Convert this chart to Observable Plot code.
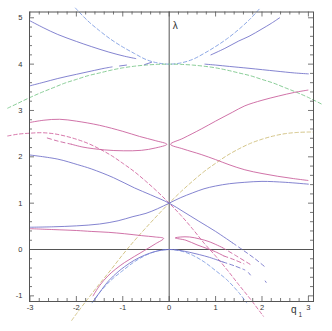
<!DOCTYPE html>
<html><head><meta charset="utf-8">
<script src="https://cdn.jsdelivr.net/npm/d3@7"></script>
<script src="https://cdn.jsdelivr.net/npm/@observablehq/plot@0.6"></script>
<style>body{margin:0;background:#fff}svg{display:block}</style>
</head><body><div id="chart"></div>
<script>
// ---- tick values ----
const xMajor = [-3, -2, -1, 0, 1, 2, 3];
const yMajor = [-1, 0, 1, 2, 3, 4, 5];
const xMinor = [-2.8,-2.6,-2.4,-2.2,-1.8,-1.6,-1.4,-1.2,-0.8,-0.6,-0.4,-0.2,0.2,0.4,0.6,0.8,1.2,1.4,1.6,1.8,2.2,2.4,2.6,2.8];
const yMinor = [-0.8,-0.6,-0.4,-0.2,0.2,0.4,0.6,0.8,1.2,1.4,1.6,1.8,2.2,2.4,2.6,2.8,3.2,3.4,3.6,3.8,4.2,4.4,4.6,4.8];

// ---- dashed reference curves [q, lambda] ----
const dashA2 = [[-2.02,5.21],[-1.75,4.93],[-1.5,4.72],[-1.25,4.53],[-1,4.37],[-0.75,4.23],[-0.5,4.10],[-0.25,4.026],[0,4],[0.25,4.026],[0.5,4.10],[0.75,4.23],[1,4.38],[1.25,4.55],[1.5,4.75],[1.75,4.98],[1.96,5.21]];
const dashB2 = [[-3.48,3.05],[-3.25,3.16],[-3,3.28],[-2.75,3.39],[-2.5,3.49],[-2.25,3.59],[-2,3.67],[-1.75,3.75],[-1.5,3.81],[-1.25,3.87],[-1,3.92],[-0.75,3.955],[-0.5,3.98],[-0.25,3.995],[0,4],[0.25,3.995],[0.5,3.98],[0.75,3.955],[1,3.92],[1.25,3.87],[1.5,3.81],[1.75,3.75],[2,3.67],[2.25,3.59],[2.5,3.49],[2.75,3.39],[3,3.28],[3.3,3.13]];
const dashA1 = [[-2.1,-1.53],[-2,-1.39],[-1.75,-1.06],[-1.5,-0.74],[-1.25,-0.43],[-1,-0.11],[-0.75,0.19],[-0.5,0.47],[-0.25,0.74],[0,1],[0.25,1.245],[0.5,1.47],[0.75,1.68],[1,1.86],[1.25,2.03],[1.5,2.17],[1.75,2.29],[2,2.38],[2.25,2.45],[2.5,2.5],[2.75,2.525],[3,2.535],[3.1,2.535]];
const dashB1 = [[-3.48,2.45],[-3.25,2.49],[-3,2.51],[-2.75,2.52],[-2.5,2.5],[-2.25,2.45],[-2,2.38],[-1.75,2.29],[-1.5,2.17],[-1.25,2.03],[-1,1.86],[-0.75,1.68],[-0.5,1.47],[-0.25,1.245],[0,1],[0.25,0.74],[0.5,0.45],[0.75,0.14],[1,-0.14],[1.25,-0.44],[1.5,-0.76],[1.75,-1.07],[2.03,-1.44]];
const dashA0 = [[-1.66,-1.15],[-1.5,-0.93],[-1.25,-0.66],[-1,-0.455],[-0.75,-0.265],[-0.5,-0.122],[-0.25,-0.031],[0,0],[0.25,-0.031],[0.5,-0.122],[0.75,-0.265],[1,-0.455],[1.25,-0.66],[1.5,-0.93],[1.67,-1.15]];

// ---- solid curves [q, lambda] ----
const blueTopL = [[-3.01,4.94],[-2.7,4.78],[-2.4,4.64],[-2.0,4.49],[-1.68,4.38],[-1.3,4.26],[-0.96,4.17],[-0.72,4.12]];
const blueMidL = [[-3.01,3.53],[-2.7,3.61],[-2.4,3.69],[-2.0,3.78],[-1.68,3.85],[-1.4,3.91],[-1.23,3.94]];
const blueFragA = [[-1.07,3.96],[-0.92,3.98]];
const blueFragB = [[-0.53,3.99],[-0.38,4.04]];
const blueMidR = [[0.77,4.0],[1.0,3.98],[1.3,3.95],[1.72,3.91],[2.3,3.85],[2.7,3.81],[3.0,3.79]];
const blueTopR = [[0.9,4.2],[1.2,4.34],[1.5,4.5],[1.72,4.6],[2.0,4.76],[2.2,4.88],[2.38,5.0]];
const magLoopL = [[-3.01,2.74],[-2.7,2.79],[-2.36,2.81],[-2.0,2.77],[-1.5,2.68],[-1.0,2.55],[-0.64,2.44],[-0.3,2.35],[-0.05,2.27],[-0.3,2.19],[-0.6,2.14],[-0.99,2.13],[-1.4,2.15],[-1.86,2.21],[-2.1,2.27]];
const magLoopLBroken = [[-2.1,2.27],[-2.4,2.34],[-2.64,2.41]];
const magLoopR = [[2.99,3.44],[2.7,3.39],[2.35,3.31],[2.0,3.22],[1.63,3.1],[1.36,2.96],[1.0,2.77],[0.69,2.6],[0.3,2.4],[0.03,2.27],[0.3,2.17],[0.69,2.05],[1.0,1.94],[1.29,1.83],[1.63,1.72],[2.0,1.64],[2.34,1.58],[2.68,1.53],[2.99,1.49]];
const blueDown = [[-3.01,2.04],[-2.4,1.95],[-1.97,1.83],[-1.68,1.74],[-1.2,1.55],[-0.75,1.33],[-0.4,1.18],[0,1.0],[0.3,0.82],[0.64,0.61],[1.0,0.39],[1.37,0.14]];
const blueDownBroken = [[1.37,0.14],[1.6,-0.02],[1.85,-0.2],[2.07,-0.38]];
const blueUp = [[-3.01,0.48],[-2.5,0.49],[-2.0,0.51],[-1.5,0.55],[-1.1,0.62],[-0.78,0.71],[-0.5,0.78],[-0.25,0.88],[0,1.0],[0.25,1.12],[0.5,1.22],[0.75,1.31],[1.0,1.37],[1.3,1.42],[1.63,1.45],[2.0,1.47],[2.5,1.45],[3.0,1.41]];
const magLow = [[-3.01,0.45],[-2.5,0.43],[-2.0,0.41],[-1.68,0.39],[-1.3,0.37],[-0.96,0.34],[-0.6,0.3],[-0.3,0.27],[-0.12,0.24],[-0.3,0.12],[-0.53,-0.02],[-0.75,-0.15],[-0.96,-0.28],[-1.15,-0.42],[-1.32,-0.57],[-1.5,-0.78],[-1.64,-1.0]];
const blueZero = [[-1.62,-1.1],[-1.45,-0.86],[-1.3,-0.67],[-1.1,-0.48],[-0.96,-0.37],[-0.75,-0.23],[-0.5,-0.11],[-0.25,-0.03],[0,0],[0.2,-0.015],[0.44,-0.06],[0.65,-0.11],[0.87,-0.17],[1.16,-0.27]];
const blueZeroBroken = [[1.16,-0.27],[1.4,-0.35],[1.63,-0.44]];
const blueDots = [[[1.71,-0.5],[1.75,-0.55]],[[2.07,-0.68],[2.09,-0.71]]];
const magLoopSmall = [[1.18,-0.14],[1.0,-0.05],[0.82,0.02],[0.6,0.1],[0.36,0.2],[0.13,0.25],[0.25,0.27],[0.44,0.27],[0.65,0.23],[0.86,0.17],[1.15,0.04]];
const magSmallUpBroken = [[1.15,0.04],[1.45,-0.14],[1.76,-0.33]];
const magSmallLowBroken = [[1.18,-0.14],[1.4,-0.22],[1.61,-0.31]];

// ---- layout ----
const W = 332, H = 331, mL = 29, mR = 19, mT = 11.5, mB = 30;
const xDom = [-3.01, 3.11], yDom = [-1.122, 5.125];
const kx = (W - mL - mR) / (xDom[1] - xDom[0]);
const ky = (H - mT - mB) / (yDom[1] - yDom[0]);

const C = {blue:"#6e6ec8", mag:"#c85a98", bdash:"#7898e0", mdash:"#d0609c", gdash:"#74c484", ydash:"#ccbb74", ax:"#555"};
const DASH = "3.5,2.5", BROKEN = "4,3", SW = 0.85;
const L = (arr, stroke, dash) => Plot.line(arr, {x: d => d[0], y: d => d[1], stroke, strokeWidth: SW, strokeDasharray: dash, curve: "catmull-rom"});

const marks = [
  Plot.ruleX([0], {stroke: C.ax, strokeWidth: 1}),
  Plot.ruleY([0], {stroke: C.ax, strokeWidth: 1}),
  // ticks (inward on all four sides)
  Plot.ruleX(xMajor, {x: d => d, y1: yDom[0], y2: yDom[0] + 5 / ky, stroke: C.ax, strokeWidth: 0.8}),
  Plot.ruleX(xMinor, {x: d => d, y1: yDom[0], y2: yDom[0] + 3 / ky, stroke: C.ax, strokeWidth: 0.8}),
  Plot.ruleX(xMajor, {x: d => d, y1: yDom[1], y2: yDom[1] - 5 / ky, stroke: C.ax, strokeWidth: 0.8}),
  Plot.ruleX(xMinor, {x: d => d, y1: yDom[1], y2: yDom[1] - 3 / ky, stroke: C.ax, strokeWidth: 0.8}),
  Plot.ruleY(yMajor, {y: d => d, x1: xDom[0], x2: xDom[0] + 5 / kx, stroke: C.ax, strokeWidth: 0.8}),
  Plot.ruleY(yMinor, {y: d => d, x1: xDom[0], x2: xDom[0] + 3 / kx, stroke: C.ax, strokeWidth: 0.8}),
  Plot.ruleY(yMajor, {y: d => d, x1: xDom[1], x2: xDom[1] - 5 / kx, stroke: C.ax, strokeWidth: 0.8}),
  Plot.ruleY(yMinor, {y: d => d, x1: xDom[1], x2: xDom[1] - 3 / kx, stroke: C.ax, strokeWidth: 0.8}),
  // dashed curves
  L(dashA2, C.bdash, DASH),
  L(dashB2, C.gdash, DASH),
  L(dashA1, C.ydash, DASH),
  L(dashB1, C.mdash, DASH),
  L(dashA0, C.bdash, DASH),
  // solid curves
  L(blueTopL, C.blue), L(blueMidL, C.blue), L(blueFragA, C.blue), L(blueFragB, C.blue),
  L(blueMidR, C.blue), L(blueTopR, C.blue),
  L(magLoopL, C.mag), L(magLoopLBroken, C.mag, BROKEN), L(magLoopR, C.mag),
  L(blueDown, C.blue), L(blueDownBroken, C.blue, BROKEN),
  L(blueUp, C.blue),
  L(magLow, C.mag),
  L(blueZero, C.blue), L(blueZeroBroken, C.blue, BROKEN),
  ...blueDots.map(s => L(s, C.blue)),
  L(magLoopSmall, C.mag), L(magSmallUpBroken, C.mag, BROKEN), L(magSmallLowBroken, C.mag, BROKEN),
  Plot.frame({stroke: C.ax, strokeWidth: 1}),
  // axis labels
  Plot.text([{x: 0, t: "λ"}], {x: "x", text: "t", frameAnchor: "top", dx: 6, dy: 9.5, fontSize: 10, fill: "#333"}),
  Plot.text(["q"], {text: d => d, frameAnchor: "bottom-right", dx: -17, dy: 11, fontSize: 10, fill: "#333"}),
  Plot.text(["1"], {text: d => d, frameAnchor: "bottom-right", dx: -11.5, dy: 15.5, fontSize: 6.5, fill: "#333"})
];

const chart = Plot.plot({
  width: W, height: H,
  marginLeft: mL, marginRight: mR, marginTop: mT, marginBottom: mB,
  style: {fontSize: "7.5px", fontFamily: "'Liberation Sans', Arial, sans-serif", background: "#fff", color: "#333"},
  x: {domain: xDom, ticks: xMajor, tickSize: 0, tickPadding: 3.5, tickFormat: d => String(d), label: null},
  y: {domain: yDom, ticks: yMajor, tickSize: 0, tickPadding: 7, tickFormat: d => String(d), label: null},
  marks
});
document.getElementById("chart").appendChild(chart);
</script></body></html>
